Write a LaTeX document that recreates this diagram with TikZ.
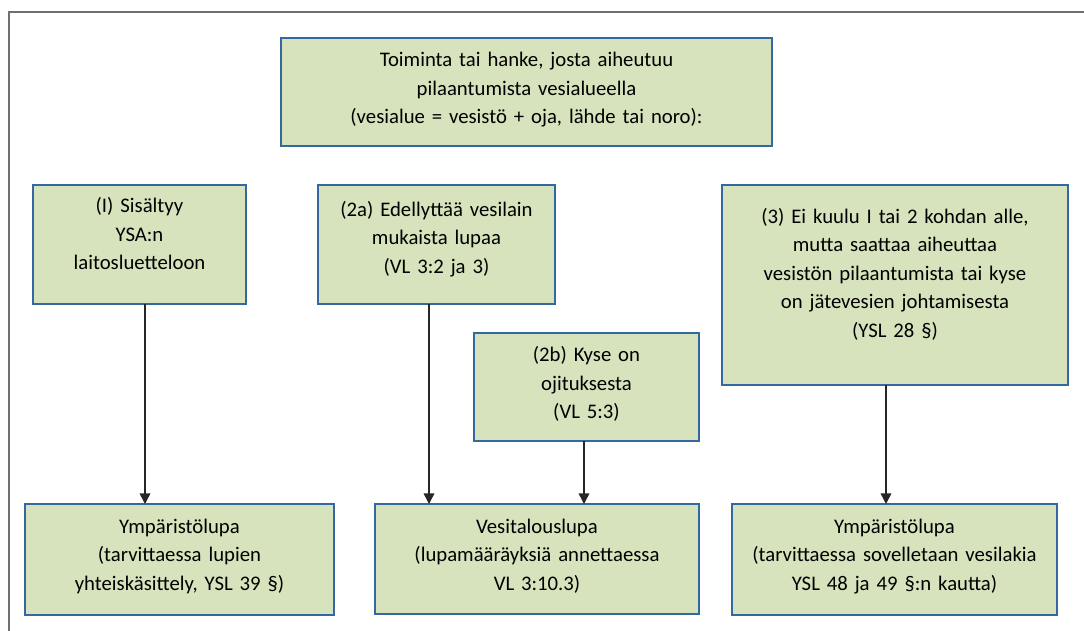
\documentclass[tikz,border=0pt]{standalone}
\usepackage{fontspec}
\setmainfont{Carlito}
\usepackage{tikz}
\usetikzlibrary{arrows.meta}
\usetikzlibrary{calc}

\definecolor{boxgreen}{RGB}{214,227,188}
\definecolor{boxblue}{RGB}{52,104,160}
\definecolor{framegray}{RGB}{112,112,112}

\tikzset{
  box/.style={draw=boxblue, fill=boxgreen, line width=1pt, inner sep=0pt, outer sep=0pt,
    align=center, font=\fontsize{11.8}{16.3}\selectfont},
  link/.style={->, line width=0.8pt, draw=black!85}
}

\begin{document}
\begin{tikzpicture}[x=0.02cm, y=-0.02cm, >={Triangle[width=6pt,length=6pt]}]
        \useasboundingbox (0,0) rectangle (1084,631);
        \draw[framegray, line width=0.9pt] (9,640) -- (9,12) -- (1090,12);

        \node[box, text width=9.82cm, text height=0.574cm, text depth=1.586cm] (act) at (526.5,92)
          {Toiminta tai hanke, josta aiheutuu\\pilaantumista vesialueella\\(vesialue = vesistö + oja, lähde tai noro):};

        \node[box, text width=4.26cm, text height=0.554cm, text depth=1.826cm] (c1) at (139.5,244.5)
          {(I) Sisältyy\\YSA:n\\laitosluetteloon};
        \node[box, text width=4.74cm, text height=0.62cm, text depth=1.76cm] (c2a) at (436.5,244.5)
          {(2a) Edellyttää vesilain\\mukaista lupaa\\(VL 3:2 ja 3)};
        \node[box, text width=4.5cm, text height=0.574cm, text depth=1.586cm] (c2b) at (586.5,387)
          {(2b) Kyse on\\ojituksesta\\(VL 5:3)};
        \node[box, text width=6.92cm, text height=0.76cm, text depth=3.24cm] (c3) at (895,285)
          {(3) Ei kuulu I tai 2 kohdan alle,\\mutta saattaa aiheuttaa\\vesistön pilaantumista tai kyse\\on jätevesien johtamisesta\\(YSL 28 §)};

        \node[box, text width=6.18cm, text height=0.58cm, text depth=1.64cm] (p1) at (179.5,559.5)
          {Ympäristölupa\\(tarvittaessa lupien\\yhteiskäsittely, YSL 39 §)};
        \node[box, text width=6.48cm, text height=0.58cm, text depth=1.62cm] (p2) at (537,559)
          {Vesitalouslupa\\(lupamääräyksiä annettaessa\\VL 3:10.3)};
        \node[box, text width=6.5cm, text height=0.58cm, text depth=1.64cm] (p3) at (894.5,559.5)
          {Ympäristölupa\\(tarvittaessa sovelletaan vesilakia\\YSL 48 ja 49 §:n kautta)};

        % arrow start points under the boxes
        \coordinate (s1) at ($(c1.south)+(5.5,0)$);
        \coordinate (s2a) at ($(c2a.south)+(-7.5,0)$);
        \coordinate (s2b) at ($(c2b.south)+(-2.5,0)$);
        \coordinate (s3) at ($(c3.south)+(-9,0)$);

        \draw[link] (s1) -- (s1 |- p1.north);
        \draw[link] (s2a) -- (s2a |- p2.north);
        \draw[link] (s2b) -- (s2b |- p2.north);
        \draw[link] (s3) -- (s3 |- p3.north);
\end{tikzpicture}
\end{document}
